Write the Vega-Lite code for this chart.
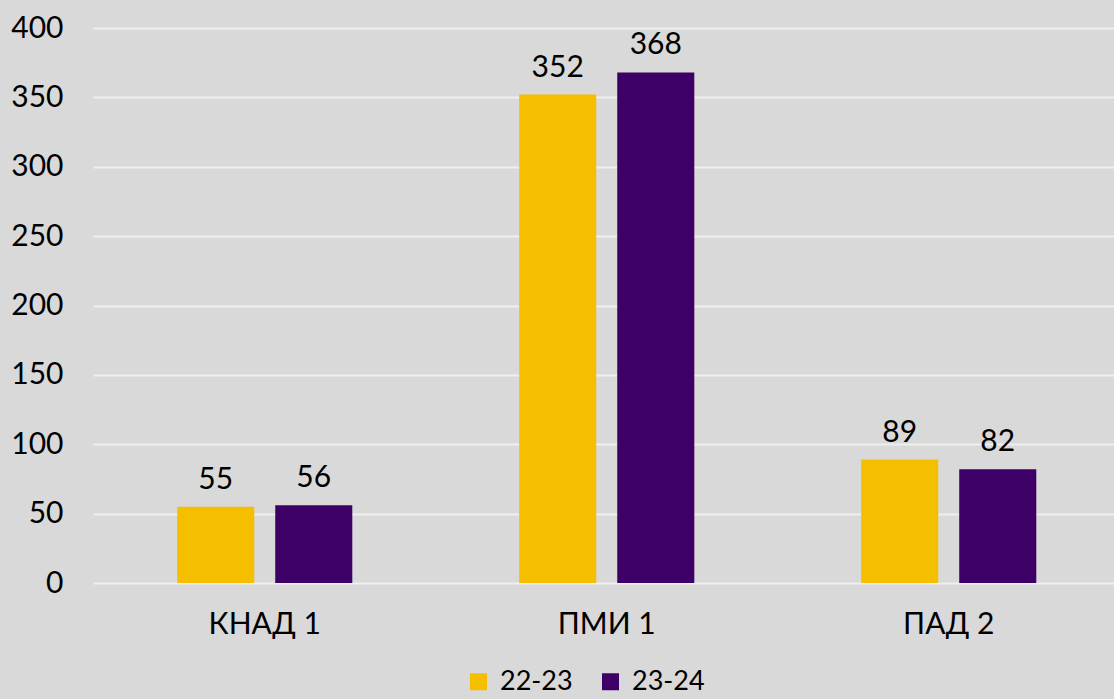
{
  "$schema": "https://vega.github.io/schema/vega-lite/v6.json",
  "width": 1021,
  "height": 555,
  "autosize": {"type": "none"},
  "padding": {"left": 93, "top": 28, "right": 0, "bottom": 116},
  "background": "#d9d9d9",
  "config": {
    "view": {"stroke": null, "fill": "#d9d9d9"},
    "font": "Lato"
  },
  "data": {
    "values": [
      {"cat": "КНАД 1", "year": "22-23", "value": 55},
      {"cat": "КНАД 1", "year": "23-24", "value": 56},
      {"cat": "ПМИ 1", "year": "22-23", "value": 352},
      {"cat": "ПМИ 1", "year": "23-24", "value": 368},
      {"cat": "ПАД 2", "year": "22-23", "value": 89},
      {"cat": "ПАД 2", "year": "23-24", "value": 82}
    ]
  },
  "encoding": {
    "x": {
      "field": "cat", "type": "nominal", "sort": ["КНАД 1", "ПМИ 1", "ПАД 2"],
      "scale": {"paddingInner": 0.488, "paddingOuter": 0.2367, "align": 0.52},
      "axis": {"title": null, "labelAngle": 0, "ticks": false, "domain": false, "labelFontSize": 30, "labelColor": "#000000", "labelPadding": 26, "labelFont": "Lato"}
    },
    "xOffset": {"field": "year", "type": "nominal", "scale": {"paddingInner": 0.214, "paddingOuter": 0}},
    "y": {
      "field": "value", "type": "quantitative",
      "scale": {"domain": [0, 400]},
      "axis": {"title": null, "values": [0, 50, 100, 150, 200, 250, 300, 350, 400], "ticks": false, "domain": false, "labelFontSize": 30, "labelColor": "#000000", "labelPadding": 30, "gridColor": "#efefef", "gridWidth": 2, "labelFont": "Lato"}
    }
  },
  "layer": [
    {
      "mark": {"type": "bar"},
      "encoding": {
        "color": {
          "field": "year", "type": "nominal",
          "scale": {"domain": ["22-23", "23-24"], "range": ["#f5bf00", "#3d0066"]},
          "legend": {
            "title": null, "orient": "none", "direction": "horizontal",
            "legendX": 372, "legendY": 640,
            "symbolType": "square", "symbolSize": 289, "symbolStrokeWidth": 0,
            "labelFontSize": 27, "labelColor": "#000000", "labelOffset": 8, "columnPadding": 24, "labelFont": "Lato"
          }
        }
      }
    },
    {
      "mark": {"type": "text", "baseline": "bottom", "dy": -12, "fontSize": 30, "color": "#000000", "font": "Lato"},
      "encoding": {"text": {"field": "value", "type": "quantitative"}}
    }
  ]
}
